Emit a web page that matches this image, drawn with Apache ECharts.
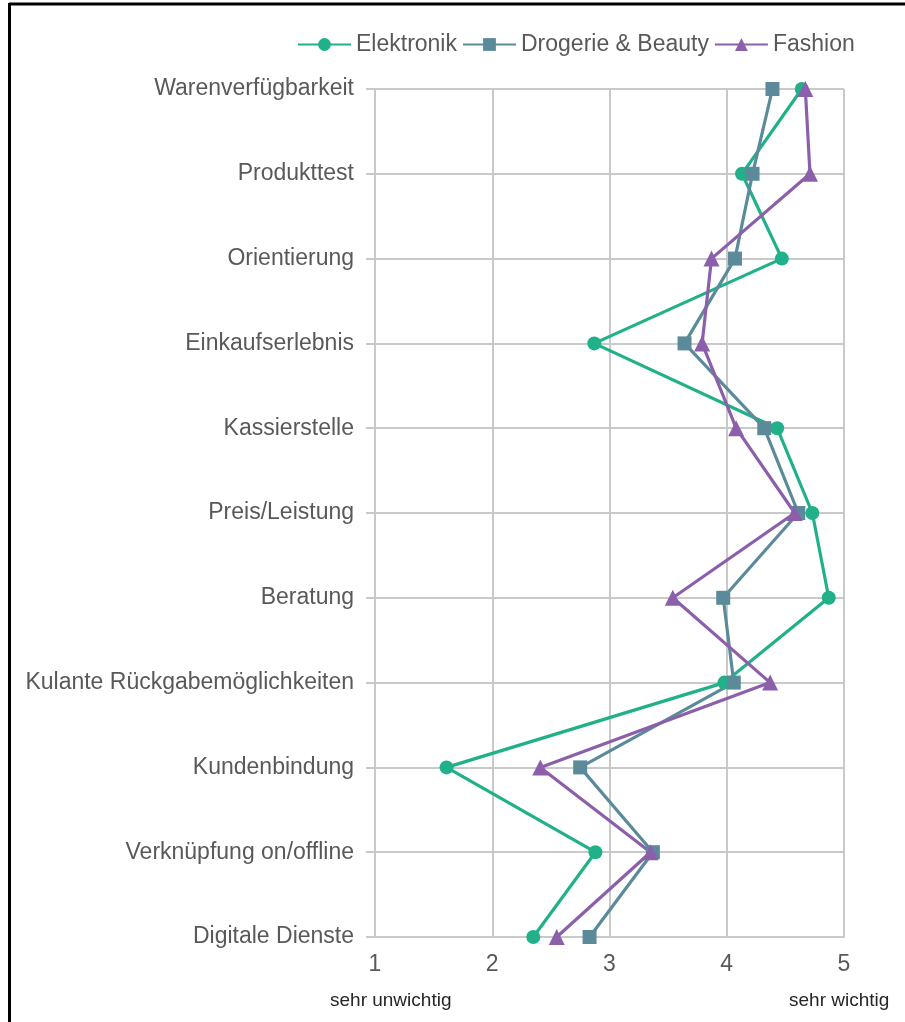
<!DOCTYPE html>
<html>
<head>
<meta charset="utf-8">
<script src="https://cdn.jsdelivr.net/npm/echarts@6/dist/echarts.min.js"></script>
<style>
html,body{margin:0;padding:0;background:#fff;}
#chart{width:905px;height:1022px;}
</style>
</head>
<body>
<div id="chart"></div>
<script>
const categories = ['Warenverfügbarkeit','Produkttest','Orientierung','Einkaufserlebnis','Kassierstelle','Preis/Leistung','Beratung','Kulante Rückgabemöglichkeiten','Kundenbindung','Verknüpfung on/offline','Digitale Dienste'];
const elektronik = [4.64, 4.13, 4.47, 2.87, 4.43, 4.73, 4.87, 3.98, 1.61, 2.88, 2.35];
const drogerie   = [4.39, 4.22, 4.07, 3.64, 4.32, 4.61, 3.97, 4.06, 2.75, 3.37, 2.83];
const fashion    = [4.67, 4.71, 3.87, 3.79, 4.08, 4.58, 3.54, 4.37, 2.41, 3.35, 2.55];
const xTicks = [1, 2, 3, 4, 5];
const seriesNames = ['Elektronik', 'Drogerie & Beauty', 'Fashion'];

const FONT = "'Liberation Sans', Arial, sans-serif";
const GRID = '#c9c9c9';
const TXT = '#595959';

const chart = echarts.init(document.getElementById('chart'), null, {renderer: 'canvas'});
const mk = (name, data, color, symbol, size) => ({
  name, type: 'line', data, symbol, symbolSize: size,
  itemStyle: {color}, lineStyle: {color, width: 3.2},
  emphasis: {disabled: true}, animation: false
});
chart.setOption({
  animation: false,
  textStyle: {fontFamily: FONT},
  legend: {
    left: 292, top: 28, itemWidth: 53, itemHeight: 16, itemGap: 5,
    textStyle: {color: TXT, fontSize: 23, fontFamily: FONT},
    data: seriesNames
  },
  grid: {left: 375, right: 61, top: 89, bottom: 85, containLabel: false},
  xAxis: {
    type: 'value', min: xTicks[0], max: xTicks[xTicks.length - 1], interval: 1,
    axisLine: {show: true, lineStyle: {color: GRID, width: 2}},
    axisTick: {show: false},
    splitLine: {show: true, lineStyle: {color: GRID, width: 2}},
    axisLabel: {color: TXT, fontSize: 23, fontFamily: FONT, margin: 16}
  },
  yAxis: {
    type: 'category', data: categories, inverse: true, boundaryGap: false,
    axisLine: {show: true, lineStyle: {color: GRID, width: 2}},
    axisTick: {show: true, length: 9, lineStyle: {color: GRID, width: 2}, interval: 0},
    splitLine: {show: true, lineStyle: {color: GRID, width: 2}, interval: 0},
    axisLabel: {color: TXT, fontSize: 23, fontFamily: FONT, margin: 21, interval: 0}
  },
  series: [
    mk(seriesNames[0], elektronik, '#21b189', 'circle', 14),
    mk(seriesNames[1], drogerie, '#5b8b9a', 'rect', 14),
    mk(seriesNames[2], fashion, '#8c5fab', 'triangle', 16)
  ],
  graphic: [
    {type: 'line', shape: {x1: 9, y1: 4, x2: 905, y2: 4}, style: {stroke: '#000', lineWidth: 3}},
    {type: 'line', shape: {x1: 9.5, y1: 3, x2: 9.5, y2: 1022}, style: {stroke: '#000', lineWidth: 3}},
    {type: 'text', left: 330, top: 991, style: {text: 'sehr unwichtig', fill: '#262626', font: "19px 'Liberation Sans', Arial, sans-serif"}},
    {type: 'text', left: 789, top: 991, style: {text: 'sehr wichtig', fill: '#262626', font: "19px 'Liberation Sans', Arial, sans-serif"}}
  ]
});
</script>
</body>
</html>
